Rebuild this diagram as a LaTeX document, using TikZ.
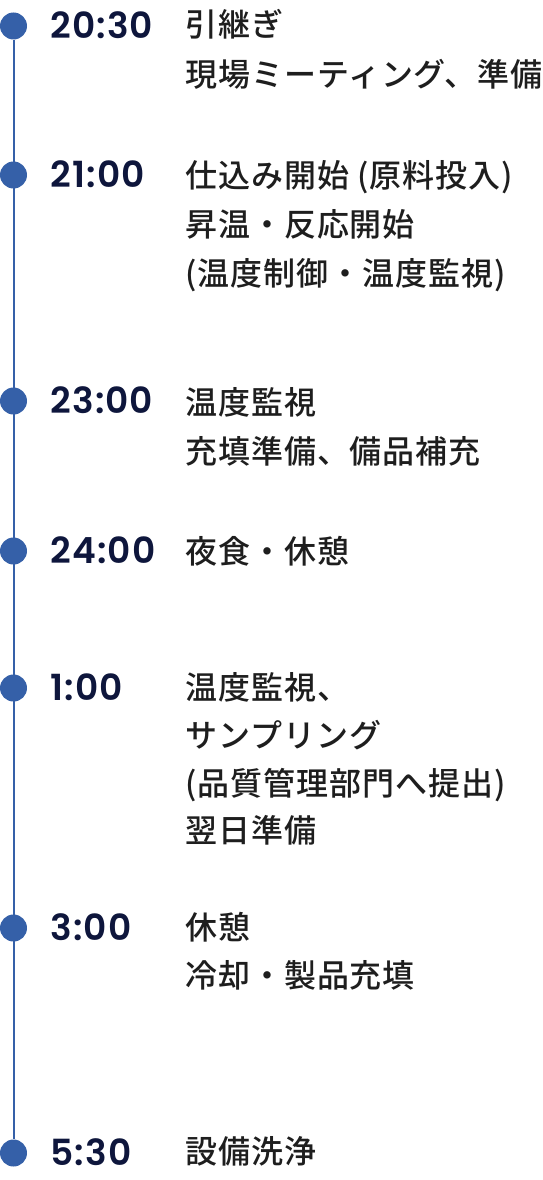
\documentclass[tikz,border=0pt]{standalone}
\usepackage{fontspec}
\usepackage{xcolor}
\usetikzlibrary{calc}
\IfFontExistsTF{Noto Sans CJK JP Medium}
  {\newfontfamily\jpfont{Noto Sans CJK JP Medium}[LetterSpace=3]}
  {\newfontfamily\jpfont{Noto Sans CJK JP}[LetterSpace=3]}
\IfFontExistsTF{Poppins SemiBold}
  {\newfontfamily\timefont{Poppins SemiBold}[LetterSpace=3]}
  {\newfontfamily\timefont{Poppins Bold}[LetterSpace=3]}
\definecolor{tlblue}{RGB}{53, 96, 168}
\definecolor{tlnavy}{RGB}{14, 22, 60}
\definecolor{tltext}{RGB}{30, 30, 30}

\tikzset{
  tldot/.style={circle, fill=tlblue, inner sep=0pt, minimum size=27pt},
  tlline/.style={draw=tlblue, line width=2pt},
  tltime/.style={anchor=base west, inner sep=0pt, text=tlnavy,
    font=\timefont\fontsize{36}{36}\selectfont},
  tlitem/.style={anchor=base west, inner sep=0pt, text=tltext,
    font=\jpfont\fontsize{32}{48}\selectfont},
}

\begin{document}
\begin{tikzpicture}[x=1pt, y=-1pt]
\useasboundingbox (0,0) rectangle (542,1180);

% Dots on the time line
\foreach \n/\y in {1/26, 2/175, 3/401, 4/551, 5/688, 6/928, 7/1153} {
    \node[tldot] (d\n) at (13.5,\y) {};
}
\draw[tlline] (d1) -- (d7);

% Times
\foreach \n/\t in {1/20:30, 2/21:00, 3/23:00, 4/24:00, 5/1:00, 6/3:00, 7/5:30} {
    \path (d\n) ++(37,12.5) node[tltime] (t\n) {\t};
}

% 20:30
\node[tlitem] (a1) at (185,37) {引継ぎ};
\node[tlitem] (a2) at (185,87) {現場ミーティング、準備};

% 21:00
\node[tlitem] (b1) at (185,187) {仕込み開始 (原料投入)};
\node[tlitem] (b2) at (185,236) {昇温・反応開始};
\node[tlitem] (b3) at (185,285) {(温度制御・温度監視)};

% 23:00
\node[tlitem] (c1) at (185,414) {温度監視};
\node[tlitem] (c2) at (185,463) {充填準備、備品補充};

% 24:00
\node[tlitem] (e1) at (185,563) {夜食・休憩};

% 1:00
\node[tlitem] (f1) at (185,699) {温度監視、};
\node[tlitem] (f2) at (185,747) {サンプリング};
\node[tlitem] (f3) at (185,795) {(品質管理部門へ提出)};
\node[tlitem] (f4) at (185,842) {翌日準備};

% 3:00
\node[tlitem] (g1) at (185,939) {休憩};
\node[tlitem] (g2) at (185,987) {冷却・製品充填};

% 5:30
\node[tlitem] (h1) at (185,1163) {設備洗浄};
\end{tikzpicture}
\end{document}
